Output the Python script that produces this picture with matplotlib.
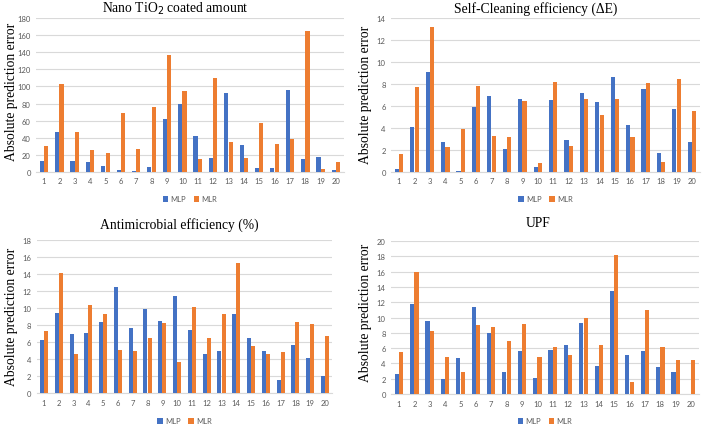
import numpy as np
import matplotlib
matplotlib.use('Agg')
import matplotlib.pyplot as plt

# Valores (erro absoluto de previsão)
samples = list(range(1, 21))

tio2_mlp = [12, 46, 13, 11.4, 6.7, 2.4, 0.5, 5, 62, 80, 42, 15.7, 92, 31, 4.7, 4.3, 96, 15, 17, 2.3]
tio2_mlr = [30, 103, 47, 25, 21.6, 69, 26.7, 76, 137, 94.5, 14.5, 110, 35, 16.5, 57, 32, 38, 165, 2.7, 11.4]

self_mlp = [0.25, 4.1, 9.1, 2.75, 0.06, 5.95, 6.9, 2.1, 6.6, 0.45, 6.55, 2.85, 7.16, 6.36, 8.62, 4.25, 7.52, 1.74, 5.69, 2.69]
self_mlr = [1.6, 7.7, 13.25, 2.25, 3.93, 7.8, 3.26, 3.14, 6.43, 0.77, 8.17, 2.3, 6.6, 5.17, 6.64, 3.15, 8.13, 0.89, 8.47, 5.5]

anti_mlp = [6.26, 9.47, 6.96, 7.08, 8.37, 12.48, 7.67, 9.86, 8.49, 11.38, 7.45, 4.55, 4.93, 9.35, 6.5, 4.93, 1.57, 5.67, 4.15, 2.03]
anti_mlr = [7.28, 14.12, 4.62, 10.33, 9.31, 5.09, 4.93, 6.49, 8.25, 3.64, 10.16, 6.46, 9.24, 15.3, 5.52, 4.58, 4.85, 8.37, 8.14, 6.73]

upf_mlp = [2.65, 11.74, 9.57, 1.91, 4.7, 11.35, 8.0, 2.91, 5.6, 2.13, 5.78, 6.43, 9.22, 3.7, 13.48, 5.09, 5.65, 3.57, 2.83, 0.05]
upf_mlr = [5.48, 16.0, 8.26, 4.78, 2.91, 8.96, 8.7, 6.87, 9.09, 4.83, 6.13, 5.09, 9.96, 6.39, 18.17, 1.61, 11.04, 6.13, 4.48, 4.43]

titles = ["Nano TiO$_2$ coated amount", "Self-Cleaning efficiency (\u0394E)",
          "Antimicrobial efficiency (%)", "UPF"]
ymax = [180, 14, 18, 20]
ystep = [20, 2, 2, 2]

blue = '#4472C4'
orange = '#ED7D31'
grid_c = '#D9D9D9'
tick_c = '#595959'

W, H = 709, 435
fig = plt.figure(figsize=(W / 100, H / 100), dpi=100)

# posições em pixels: (esquerda, direita, topo, base)
boxes = [(36.3, 343.7, 19.3, 172.7), (391.3, 699.7, 19.3, 172.7),
         (36.6, 332.4, 241, 394), (391.3, 698.7, 242, 395)]
title_pos = [(175, 9), (536, 9), (179, 225), (538, 224)]
ylabel_pos = [(12, 92), (365, 95), (12, 317), (365, 313)]
legend_y = [200, 200, 422, 422]

data = [(tio2_mlp, tio2_mlr), (self_mlp, self_mlr), (anti_mlp, anti_mlr), (upf_mlp, upf_mlr)]

x = np.array(samples)
bw = 0.27
for i, (mlp, mlr) in enumerate(data):
    l, r, t, b = boxes[i]
    ax = fig.add_axes([l / W, 1 - b / H, (r - l) / W, (b - t) / H])
    ax.bar(x - 0.14, mlp, width=bw, color=blue, label='MLP', zorder=3)
    ax.bar(x + 0.14, mlr, width=bw, color=orange, label='MLR', zorder=3)
    ax.set_xlim(0.5, 20.5)
    ax.set_ylim(0, ymax[i])
    ax.set_yticks(np.arange(0, ymax[i] + 0.01, ystep[i]))
    ax.set_xticks(samples)
    ax.grid(axis='y', color=grid_c, linewidth=0.8, zorder=0)
    for s in ['top', 'right', 'left']:
        ax.spines[s].set_visible(False)
    ax.spines['bottom'].set_color(grid_c)
    ax.spines['bottom'].set_linewidth(0.8)
    ax.tick_params(length=0, labelsize=5.5, labelcolor=tick_c, pad=4)
    for lab in ax.get_xticklabels() + ax.get_yticklabels():
        lab.set_family('Lato')
    leg_y = (b - legend_y[i]) / (b - t)
    ax.legend(loc='center', bbox_to_anchor=(0.5, leg_y), ncol=2, frameon=False,
              handlelength=0.7, handleheight=0.7, handletextpad=0.3,
              columnspacing=1.0, prop={'family': 'Lato', 'size': 5.5},
              labelcolor=tick_c)

    tx, ty = title_pos[i]
    fig.text(tx / W, 1 - ty / H, titles[i], ha='center', va='center',
             family='Liberation Serif', fontsize=9.8)
    yx, yy = ylabel_pos[i]
    fig.text(yx / W, 1 - yy / H, "Absolute prediction error", ha='center', va='center',
             rotation=90, family='Liberation Serif', fontsize=9.8)

fig.savefig('out.png', dpi=100)
